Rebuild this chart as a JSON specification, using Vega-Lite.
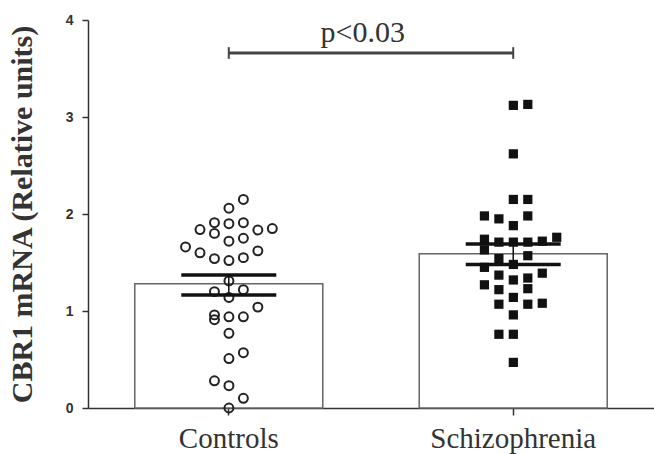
{
  "$schema": "https://vega.github.io/schema/vega-lite/v6.json",
  "width": 566,
  "height": 388,
  "autosize": {"type": "none"},
  "padding": {"left": 88, "top": 20, "right": 0, "bottom": 46},
  "background": "white",
  "config": {"view": {"stroke": null}, "axis": {"grid": false}},
  "datasets": {
    "summary": [
      {"group": "Controls", "mean": 1.28, "lo": 1.165, "hi": 1.37},
      {"group": "Schizophrenia", "mean": 1.59, "lo": 1.48, "hi": 1.69}
    ],
    "pts": [
      {"group": "Controls", "value": 2.15, "col": 1},
      {"group": "Controls", "value": 2.06, "col": 0},
      {"group": "Controls", "value": 1.84, "col": -2},
      {"group": "Controls", "value": 1.91, "col": -1},
      {"group": "Controls", "value": 1.90, "col": 0},
      {"group": "Controls", "value": 1.91, "col": 1},
      {"group": "Controls", "value": 1.835, "col": 2},
      {"group": "Controls", "value": 1.85, "col": 3},
      {"group": "Controls", "value": 1.80, "col": -1},
      {"group": "Controls", "value": 1.72, "col": 0},
      {"group": "Controls", "value": 1.75, "col": 1},
      {"group": "Controls", "value": 1.66, "col": -3},
      {"group": "Controls", "value": 1.60, "col": -2},
      {"group": "Controls", "value": 1.54, "col": -1},
      {"group": "Controls", "value": 1.52, "col": 0},
      {"group": "Controls", "value": 1.55, "col": 1},
      {"group": "Controls", "value": 1.62, "col": 2},
      {"group": "Controls", "value": 1.31, "col": 0},
      {"group": "Controls", "value": 1.20, "col": -1},
      {"group": "Controls", "value": 1.22, "col": 1},
      {"group": "Controls", "value": 1.14, "col": 0},
      {"group": "Controls", "value": 1.04, "col": 2},
      {"group": "Controls", "value": 0.96, "col": -1},
      {"group": "Controls", "value": 0.91, "col": -1},
      {"group": "Controls", "value": 0.94, "col": 0},
      {"group": "Controls", "value": 0.94, "col": 1},
      {"group": "Controls", "value": 0.77, "col": 0},
      {"group": "Controls", "value": 0.51, "col": 0},
      {"group": "Controls", "value": 0.57, "col": 1},
      {"group": "Controls", "value": 0.28, "col": -1},
      {"group": "Controls", "value": 0.23, "col": 0},
      {"group": "Controls", "value": 0.10, "col": 1},
      {"group": "Controls", "value": 0.00, "col": 0},
      {"group": "Schizophrenia", "value": 3.12, "col": 0},
      {"group": "Schizophrenia", "value": 3.13, "col": 1},
      {"group": "Schizophrenia", "value": 2.62, "col": 0},
      {"group": "Schizophrenia", "value": 2.15, "col": 0},
      {"group": "Schizophrenia", "value": 2.15, "col": 1},
      {"group": "Schizophrenia", "value": 1.98, "col": -2},
      {"group": "Schizophrenia", "value": 1.95, "col": -1},
      {"group": "Schizophrenia", "value": 1.88, "col": 0},
      {"group": "Schizophrenia", "value": 1.98, "col": 1},
      {"group": "Schizophrenia", "value": 1.74, "col": -2},
      {"group": "Schizophrenia", "value": 1.71, "col": -1},
      {"group": "Schizophrenia", "value": 1.71, "col": 0},
      {"group": "Schizophrenia", "value": 1.71, "col": 1},
      {"group": "Schizophrenia", "value": 1.72, "col": 2},
      {"group": "Schizophrenia", "value": 1.76, "col": 3},
      {"group": "Schizophrenia", "value": 1.63, "col": -2},
      {"group": "Schizophrenia", "value": 1.54, "col": -1},
      {"group": "Schizophrenia", "value": 1.57, "col": 1},
      {"group": "Schizophrenia", "value": 1.45, "col": -2},
      {"group": "Schizophrenia", "value": 1.48, "col": 0},
      {"group": "Schizophrenia", "value": 1.39, "col": 2},
      {"group": "Schizophrenia", "value": 1.37, "col": -1},
      {"group": "Schizophrenia", "value": 1.27, "col": -2},
      {"group": "Schizophrenia", "value": 1.32, "col": 0},
      {"group": "Schizophrenia", "value": 1.34, "col": 1},
      {"group": "Schizophrenia", "value": 1.22, "col": -1},
      {"group": "Schizophrenia", "value": 1.23, "col": 1},
      {"group": "Schizophrenia", "value": 1.14, "col": 0},
      {"group": "Schizophrenia", "value": 1.07, "col": -1},
      {"group": "Schizophrenia", "value": 1.07, "col": 1},
      {"group": "Schizophrenia", "value": 1.08, "col": 2},
      {"group": "Schizophrenia", "value": 0.96, "col": 0},
      {"group": "Schizophrenia", "value": 0.76, "col": -1},
      {"group": "Schizophrenia", "value": 0.76, "col": 0},
      {"group": "Schizophrenia", "value": 0.47, "col": 0}
    ],
    "bracket": [
      {"from": "Controls", "to": "Schizophrenia", "y": 3.66, "label": "p<0.03"}
    ],
    "caps": [
      {"group": "Controls", "y1": 3.6, "y2": 3.72},
      {"group": "Schizophrenia", "y1": 3.6, "y2": 3.72}
    ]
  },
  "encoding": {
    "x": {
      "field": "group",
      "type": "nominal",
      "scale": {"domain": ["Controls", "Schizophrenia"], "paddingInner": 0.34, "paddingOuter": 0.165},
      "axis": {
        "title": null,
        "labelAngle": 0,
        "labelFont": "Liberation Serif",
        "labelFontSize": 29,
        "labelColor": "#333333",
        "labelBaseline": "alphabetic",
        "labelPadding": 32,
        "domainColor": "#333333",
        "domainWidth": 1.5,
        "tickColor": "#333333",
        "tickWidth": 1.5,
        "tickSize": 7
      }
    }
  },
  "layer": [
    {
      "data": {"name": "summary"},
      "mark": {"type": "bar", "fill": "white", "stroke": "#666666", "strokeWidth": 1.5, "width": 188},
      "encoding": {
        "y": {
          "field": "mean",
          "type": "quantitative",
          "scale": {"domain": [0, 4], "nice": false},
          "axis": {
            "title": "CBR1 mRNA (Relative units)",
            "titleFont": "Liberation Serif",
            "titleFontSize": 30,
            "titleFontWeight": "bold",
            "titleColor": "#333333",
            "titlePadding": 28,
            "values": [0, 1, 2, 3, 4],
            "format": "d",
            "labelFont": "Liberation Sans",
            "labelFontSize": 14,
            "labelFontWeight": "bold",
            "labelColor": "#333333",
            "labelPadding": 9,
            "domainColor": "#333333",
            "domainWidth": 1.5,
            "tickColor": "#333333",
            "tickWidth": 1.5,
            "tickSize": 6
          }
        }
      }
    },
    {
      "data": {"name": "pts"},
      "transform": [{"filter": "datum.group === 'Controls'"}],
      "mark": {"type": "point", "shape": "circle", "filled": false, "stroke": "#222222", "strokeWidth": 2, "opacity": 1, "size": 80},
      "encoding": {
        "y": {"field": "value", "type": "quantitative"},
        "xOffset": {"field": "col", "type": "quantitative", "scale": {"domain": [-6.5, 6.5], "range": [0, 188]}}
      }
    },
    {
      "data": {"name": "pts"},
      "transform": [{"filter": "datum.group === 'Schizophrenia'"}],
      "mark": {"type": "point", "shape": "square", "filled": true, "fill": "#111111", "opacity": 1, "size": 85},
      "encoding": {
        "y": {"field": "value", "type": "quantitative"},
        "xOffset": {"field": "col", "type": "quantitative", "scale": {"domain": [-6.5, 6.5], "range": [0, 188]}}
      }
    },
    {
      "data": {"name": "summary"},
      "mark": {"type": "rule", "color": "#111111", "strokeWidth": 1.5},
      "encoding": {
        "y": {"field": "lo", "type": "quantitative"},
        "y2": {"field": "hi"}
      }
    },
    {
      "data": {"name": "summary"},
      "mark": {"type": "tick", "color": "#111111", "opacity": 1, "thickness": 3.5, "size": 95, "orient": "horizontal"},
      "encoding": {"y": {"field": "lo", "type": "quantitative"}}
    },
    {
      "data": {"name": "summary"},
      "mark": {"type": "tick", "color": "#111111", "opacity": 1, "thickness": 3.5, "size": 95, "orient": "horizontal"},
      "encoding": {"y": {"field": "hi", "type": "quantitative"}}
    },
    {
      "data": {"name": "bracket"},
      "mark": {"type": "rule", "color": "#444444", "strokeWidth": 3},
      "encoding": {
        "x": {"field": "from", "type": "nominal"},
        "x2": {"field": "to"},
        "y": {"field": "y", "type": "quantitative"}
      }
    },
    {
      "data": {"name": "caps"},
      "mark": {"type": "rule", "color": "#444444", "strokeWidth": 2},
      "encoding": {
        "y": {"field": "y1", "type": "quantitative"},
        "y2": {"field": "y2"}
      }
    },
    {
      "data": {"name": "bracket"},
      "mark": {"type": "text", "font": "Liberation Serif", "fontSize": 30, "color": "#333333", "dx": 134, "dy": -11, "baseline": "alphabetic", "align": "center"},
      "encoding": {
        "x": {"field": "from", "type": "nominal"},
        "y": {"field": "y", "type": "quantitative"},
        "text": {"field": "label"}
      }
    }
  ]
}
